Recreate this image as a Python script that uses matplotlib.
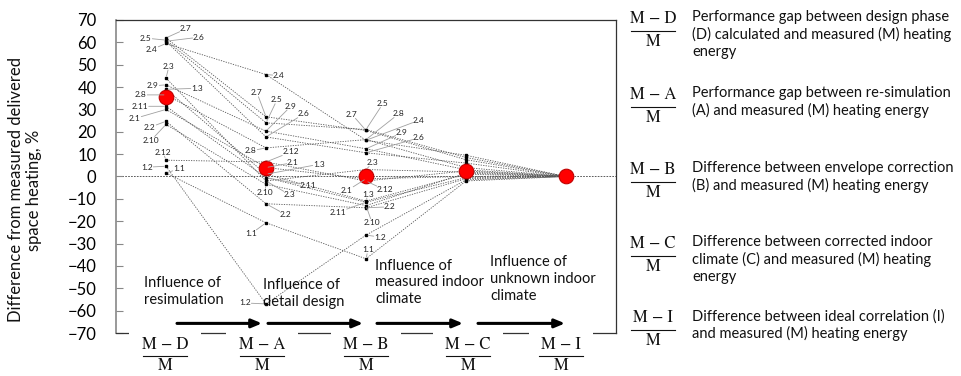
import matplotlib
matplotlib.use("Agg")
import matplotlib.pyplot as plt

plt.rcParams['font.family'] = ['Lato', 'DejaVu Sans']

# data, % difference from measured heating
stages = ["D", "A", "B", "C", "I"]
buildings = ["1.1", "1.2", "1.3", "2.1", "2.2", "2.3", "2.4", "2.5",
             "2.6", "2.7", "2.8", "2.9", "2.10", "2.11", "2.12"]
d_vals = [1.6, 4.6, 39.0, 30.0, 24.7, 44.0, 59.5, 61.0, 60.5, 62.0, 36.5, 41.0, 23.3, 31.4, 7.3]
a_vals = [-20.7, -57.0, 1.0, 4.0, -12.2, -2.0, 45.6, 24.0, 17.7, 26.7, 12.8, 20.3, -3.5, -0.5, 6.5]
b_vals = [-36.8, -26.2, -11.0, -1.0, -14.0, 3.1, 16.2, 21.0, 10.6, 20.6, 16.5, 12.4, -13.0, -11.5, -2.0]
c_vals = [-2.0, -1.5, 1.0, 0.0, -1.0, 2.0, 9.5, 8.5, 6.0, 7.5, 4.0, 3.0, 1.5, -0.5, 2.5]
i_vals = [0.0] * 15
mean_vals = [35.6, 3.9, 0.0, 2.4, 0.0]

influence = ["Influence of\nresimulation", "Influence of\ndetail design",
             "Influence of\nmeasured indoor\nclimate", "Influence of\nunknown indoor\nclimate"]
descriptions = [
    "Performance gap between design phase\n(D) calculated and measured (M) heating\nenergy",
    "Performance gap between re-simulation\n(A) and measured (M) heating energy",
    "Difference between envelope correction\n(B) and measured (M) heating energy",
    "Difference between corrected indoor\nclimate (C) and measured (M) heating\nenergy",
    "Difference between ideal correlation (I)\nand measured (M) heating energy",
]

# label offsets in pixels (dx right, dy up) for the first three stages
label_offsets = [
    {"1.1": (13, 4), "1.2": (-19, -1), "1.3": (31, 1), "2.1": (-31, -9), "2.2": (-16, -6),
     "2.3": (3, 12), "2.4": (-14, -6), "2.5": (-20, 2), "2.6": (33, 4), "2.7": (20, 9),
     "2.8": (-25, 0), "2.9": (-13, -1), "2.10": (-15, -16), "2.11": (-26, 0), "2.12": (-3, 8)},
    {"1.1": (-15, -11), "1.2": (-21, 1), "1.3": (53, 10), "2.1": (27, 5), "2.2": (20, -11),
     "2.3": (24, -14), "2.4": (13, -1), "2.5": (11, 23), "2.6": (38, 23), "2.7": (-9, 24),
     "2.8": (-15, -3), "2.9": (25, 25), "2.10": (-1, -8), "2.11": (42, -8), "2.12": (25, 10)},
    {"1.1": (2, 9), "1.2": (14, -2), "1.3": (2, 7), "2.1": (-19, -12), "2.2": (24, 1),
     "2.3": (7, 7), "2.4": (53, 20), "2.5": (17, 26), "2.6": (53, 15), "2.7": (-14, 16),
     "2.8": (33, 26), "2.9": (36, 16), "2.10": (6, -17), "2.11": (-28, -10), "2.12": (19, -9)},
]

W, H = 961, 376
fig = plt.figure(figsize=(W / 100, H / 100), dpi=100)
ax = fig.add_axes([116 / W, 1 - 333 / H, 500 / W, 313 / H])

x = list(range(len(stages)))
series = [d_vals, a_vals, b_vals, c_vals, i_vals]

ax.axhline(0, color="#404040", lw=0.6, ls=(0, (2, 1.5)), zorder=1)
for k in range(len(buildings)):
    ax.plot(x, [s[k] for s in series], color="#555555", lw=0.6, ls=(0, (1.5, 1.5)), zorder=2)
for i, s in enumerate(series):
    ax.plot([i] * len(s), s, "s", ms=2.0, color="black", zorder=3)
ax.plot(x, mean_vals, "o", ms=10.5, mfc="#ff0000", mec="#c00000", mew=0.8, zorder=5)

for i, offs in enumerate(label_offsets):
    for k, name in enumerate(buildings):
        dx, dy = offs[name]
        ax.annotate(name, xy=(i, series[i][k]), xytext=(dx * 0.72, dy * 0.72),
                    textcoords="offset points", ha="center", va="center", fontsize=6,
                    color="#222222", zorder=6,
                    bbox=dict(boxstyle="square,pad=0.05", fc="none", ec="none"),
                    arrowprops=dict(arrowstyle="-", color="#a0a0a0", lw=0.6,
                                    shrinkA=0, shrinkB=1.5))

ax.set_xlim(-0.5, 4.5)
ax.set_ylim(-70, 70)
ax.set_yticks(range(-70, 71, 10))
ax.set_xticks([])
ax.tick_params(axis="y", direction="in", length=5, width=0.8, color="#888888",
               labelsize=12, pad=14)
ax.spines["left"].set_color("#888888")
ax.spines["left"].set_linewidth(1.2)
for side in ["top", "right", "bottom"]:
    ax.spines[side].set_color("#333333")
    ax.spines[side].set_linewidth(0.9)

# influence notes and arrows between stages
note_pos = [(-0.22, -44.7), (0.97, -45.6), (2.09, -36.7), (3.24, -35.3)]
arrow_span = [(0.11, 0.96), (1.02, 1.97), (2.11, 2.97), (3.12, 3.99)]
for txt, (tx, ty), (a0, a1) in zip(influence, note_pos, arrow_span):
    ax.text(tx, ty, txt, fontsize=10.5, ha="left", va="top", linespacing=1.25,
            color="#111111", zorder=6)
    ax.annotate("", xy=(a1, -65.7), xytext=(a0, -65.7), annotation_clip=False, zorder=7,
                arrowprops=dict(arrowstyle="-|>,head_length=0.6,head_width=0.25",
                                color="black", lw=2.2, shrinkA=0, shrinkB=0))


def px(xp, yp):
    return xp / W, 1 - yp / H


def fraction(xc, ynum, letter, gap_bar=12, gap_den=23, cover=False):
    kw = dict(family="STIXGeneral", fontsize=12, ha="center", va="center", color="#111111")
    if cover:
        # drawn inside the axes so the white box hides the bottom frame but not the arrows
        box = dict(boxstyle="square,pad=0.75", fc="white", ec="none")
        ax.text(*px(xc, ynum), f"M \u2212 {letter}", bbox=box, zorder=3,
                transform=fig.transFigure, clip_on=False, **kw)
    else:
        fig.text(*px(xc, ynum), f"M \u2212 {letter}", **kw)
    fig.add_artist(plt.Line2D([(xc - 22) / W, (xc + 22) / W], [1 - (ynum + gap_bar) / H] * 2,
                              color="#111111", lw=0.8, zorder=4))
    fig.text(*px(xc, ynum + gap_den), "M", zorder=4, **kw)


bottom_x = [165, 262, 366, 468, 561]
for xc, letter in zip(bottom_x, stages):
    fraction(xc, 345, letter, gap_bar=11, gap_den=21, cover=True)

right_y = [19, 95, 170, 244, 318]
for yc, letter, desc in zip(right_y, stages, descriptions):
    fraction(653, yc, letter)
    fig.text(*px(692, yc - 9), desc, fontsize=10.5, ha="left", va="top",
             linespacing=1.25, color="#111111")

fig.text(*px(25, 190), "Difference from measured delivered\nspace heating, %",
         rotation=90, ha="center", va="center", fontsize=12, color="#111111",
         multialignment="center", linespacing=1.1)

fig.savefig("out.png", dpi=100)
